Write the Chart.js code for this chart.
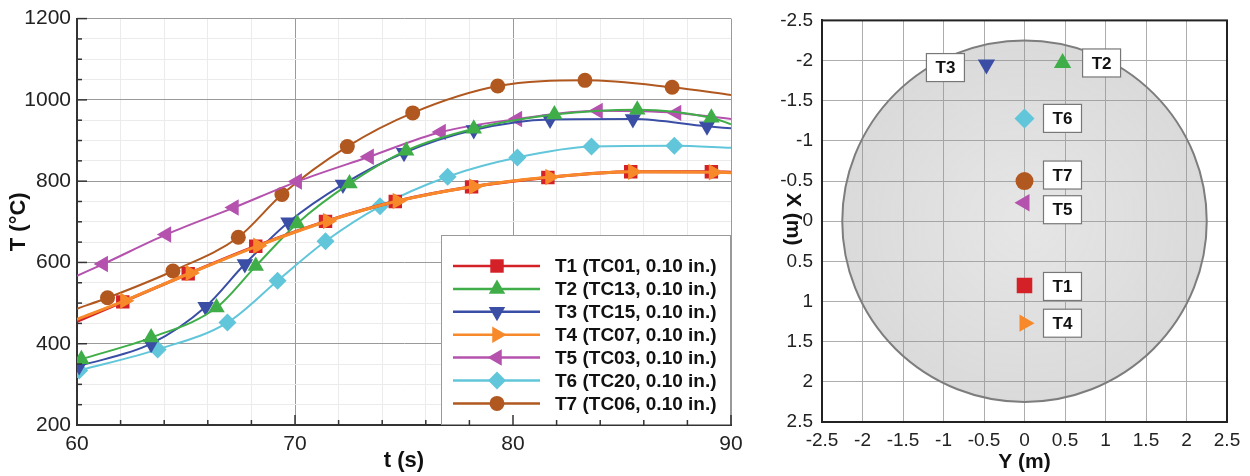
<!DOCTYPE html>
<html>
<head>
<meta charset="utf-8">
<script src="https://cdn.jsdelivr.net/npm/chart.js@4.4.1/dist/chart.umd.min.js"></script>
<style>
body { margin: 0; background: #fff; width: 1250px; height: 476px; overflow: hidden; position: relative; }
#wl { position: absolute; left: 0; top: 0; width: 750px; height: 476px; }
#wr { position: absolute; left: 760px; top: 0; width: 490px; height: 476px; }
</style>
</head>
<body>
<div id="wl"><canvas id="left"></canvas></div>
<div id="wr"><canvas id="right"></canvas></div>
<script>
// thermocouple histories
var seriesNames = ['T1 (TC01, 0.10 in.)', 'T2 (TC13, 0.10 in.)', 'T3 (TC15, 0.10 in.)', 'T4 (TC07, 0.10 in.)',
                   'T5 (TC03, 0.10 in.)', 'T6 (TC20, 0.10 in.)', 'T7 (TC06, 0.10 in.)'];
var t1Time = [60, 62.1, 65.1, 68.2, 71.4, 74.6, 78.1, 81.6, 85.4, 89.1, 90];
var t1Temp = [455, 503, 572, 640, 701, 750, 786, 809, 823, 823, 822];
var t2Time = [60.2, 63.4, 66.4, 68.2, 70.1, 72.5, 75.1, 78.2, 81.9, 85.7, 89.1, 90];
var t2Temp = [362, 415, 489, 591, 696, 794, 875, 929, 964, 976, 956, 940];
var t3Time = [60.1, 63.4, 65.9, 67.7, 69.7, 72.2, 75.0, 78.2, 81.7, 85.5, 88.9, 90];
var t3Temp = [345, 400, 491, 596, 699, 792, 870, 926, 952, 953, 935, 930];
var t4Time = [60, 62.2, 65.2, 68.3, 71.5, 74.7, 78.2, 81.7, 85.5, 89.2, 90];
var t4Temp = [460, 506, 574, 641, 702, 751, 787, 810, 823, 822, 821];
var t5Time = [60, 61.2, 64.1, 67.2, 70.1, 73.4, 76.7, 80.2, 83.9, 87.5, 90];
var t5Temp = [567, 596, 669, 735, 799, 860, 921, 953, 973, 968, 953];
var t6Time = [60.1, 63.7, 66.9, 69.2, 71.4, 73.9, 77.0, 80.2, 83.6, 87.4, 90];
var t6Temp = [334, 386, 452, 555, 652, 738, 811, 858, 885, 887, 882];
var t7Time = [60, 61.4, 64.4, 67.4, 69.4, 72.4, 75.4, 79.3, 83.3, 87.3, 90];
var t7Temp = [486, 513, 579, 662, 767, 885, 968, 1034, 1048, 1031, 1012];

// probe locations (Y, X in metres) and the disk radius
var probeNames = ['T1', 'T2', 'T3', 'T4', 'T5', 'T6', 'T7'];
var probeY = [0, 0.47, -0.47, 0, 0, 0, 0];
var probeX = [0.8, -1.97, -1.95, 1.27, -0.23, -1.28, -0.5];
var diskRadius = 2.25;

var colors = ['#d42027', '#3fae49', '#3b4ea6', '#f7892a', '#b452ae', '#62c6da', '#b0581f'];
var markers = [
    { style: 'rect', rot: 0, r: 9.5 },
    { style: 'triangle', rot: 0, r: 9.5 },
    { style: 'triangle', rot: 180, r: 9.5 },
    { style: 'triangle', rot: 90, r: 9.5 },
    { style: 'triangle', rot: -90, r: 9.5 },
    { style: 'rectRot', rot: 0, r: 9 },
    { style: 'circle', rot: 0, r: 7.5 }
];
var times = [t1Time, t2Time, t3Time, t4Time, t5Time, t6Time, t7Time];
var temps = [t1Temp, t2Temp, t3Temp, t4Temp, t5Temp, t6Temp, t7Temp];
// first point is a marker only for series whose first symbol sits on the axis
var firstMarked = [false, true, true, false, false, true, false];

Chart.defaults.font.family = '"Liberation Sans", Arial, sans-serif';
Chart.defaults.color = '#222';

function pts(tx, ty) {
    var out = [];
    for (var i = 0; i < tx.length; i++) out.push({ x: tx[i], y: ty[i] });
    return out;
}

var lineSets = seriesNames.map(function (name, k) {
    return {
        label: name,
        data: pts(times[k], temps[k]),
        borderColor: colors[k],
        backgroundColor: colors[k],
        borderWidth: (k === 0 || k === 3) ? 3 : 2,
        pointStyle: markers[k].style,
        rotation: markers[k].rot,
        pointRadius: function (c) {
            var n = c.dataset.data.length;
            if (c.dataIndex === n - 1) return 0;
            if (c.dataIndex === 0 && !firstMarked[k]) return 0;
            return markers[k].r;
        },
        pointBorderWidth: 0,
        cubicInterpolationMode: 'monotone',
        order: k === 3 ? -1 : k
    };
});

function drawMarker(ctx, m, color, x, y) {
    ctx.save();
    ctx.fillStyle = color;
    ctx.strokeStyle = color;
    Chart.helpers.drawPoint(ctx, { pointStyle: m.style, rotation: m.rot, radius: m.r, borderWidth: 0 }, x, y);
    ctx.restore();
}

var legendPlugin = {
    id: 'boxLegend',
    afterDatasetsDraw: function (chart) {
        var ctx = chart.ctx, a = chart.chartArea;
        var bx = 441, by = 235;
        ctx.save();
        ctx.fillStyle = '#fff';
        ctx.fillRect(bx, by, a.right - bx, a.bottom - by);
        ctx.strokeStyle = '#999';
        ctx.lineWidth = 1;
        ctx.strokeRect(bx + 0.5, by + 0.5, a.right - bx - 1, a.bottom - by - 1);
        ctx.font = 'bold 19px "Liberation Sans", Arial, sans-serif';
        ctx.textBaseline = 'middle';
        ctx.fillStyle = '#111';
        chart.data.datasets.forEach(function (ds, k) {
            var y = 266 + k * 22.9;
            ctx.strokeStyle = ds.borderColor;
            ctx.lineWidth = 2.5;
            ctx.beginPath();
            ctx.moveTo(453, y);
            ctx.lineTo(540, y);
            ctx.stroke();
            drawMarker(ctx, markers[k], ds.borderColor, 497, y);
            ctx.fillStyle = '#111';
            ctx.fillText(ds.label, 555, y + 1);
        });
        ctx.restore();
    }
};

// short inward tick marks along the two drawn axes
var innerTicks = {
    id: 'innerTicks',
    afterDraw: function (chart) {
        var ctx = chart.ctx, a = chart.chartArea;
        var xs = chart.scales.x, ys = chart.scales.y;
        ctx.save();
        ctx.strokeStyle = '#333';
        ctx.lineWidth = 1.5;
        xs.ticks.forEach(function (t) {
            var px = xs.getPixelForValue(t.value);
            var len = (t.value % 10 === 0) ? 10 : 5;
            ctx.beginPath();
            ctx.moveTo(px, a.bottom);
            ctx.lineTo(px, a.bottom - len);
            ctx.stroke();
        });
        ys.ticks.forEach(function (t) {
            var py = ys.getPixelForValue(t.value);
            var len = (t.value % 200 === 0) ? 10 : 5;
            ctx.beginPath();
            ctx.moveTo(a.left, py);
            ctx.lineTo(a.left + len, py);
            ctx.stroke();
        });
        ctx.restore();
    }
};

new Chart(document.getElementById('left').getContext('2d'), {
    type: 'line',
    data: { datasets: lineSets },
    options: {
        responsive: true,
        maintainAspectRatio: false,
        animation: false,
        layout: { padding: { top: 16, right: 19, left: 0, bottom: 0 } },
        plugins: { legend: { display: false }, tooltip: { enabled: false } },
        scales: {
            x: {
                type: 'linear', min: 60, max: 90,
                afterFit: function (s) { s.height = 51; },
                ticks: {
                    stepSize: 2, padding: 7, maxRotation: 0, autoSkip: false,
                    font: { size: 21 },
                    callback: function (v) { return v % 10 === 0 ? String(v) : ''; }
                },
                grid: {
                    drawTicks: false,
                    color: function (c) { return c.tick && c.tick.value % 10 === 0 ? '#9a9a9a' : '#ebebeb'; }
                },
                border: { color: '#333', width: 2 },
                title: { display: true, text: 't (s)', font: { size: 22, weight: 'bold' }, color: '#111', padding: { top: 0, bottom: 2 } }
            },
            y: {
                min: 200, max: 1200,
                afterFit: function (s) { s.width = 77; },
                ticks: {
                    stepSize: 50, padding: 6, autoSkip: false,
                    font: { size: 21 },
                    callback: function (v) { return v % 200 === 0 ? String(v) : ''; }
                },
                grid: {
                    drawTicks: false,
                    color: function (c) { return c.tick && c.tick.value % 200 === 0 ? '#9a9a9a' : '#ebebeb'; }
                },
                border: { color: '#333', width: 2 },
                title: { display: true, text: 'T (°C)', font: { size: 22, weight: 'bold' }, color: '#111', padding: { top: 6, bottom: 0 } }
            }
        }
    },
    plugins: [innerTicks, legendPlugin]
});

// ---- right: probe map ----
var labelOffsets = [[38, 1], [39, 0], [-41, 3], [38, 0], [38, 7], [38, 0], [38, -6]];

var diskPlugin = {
    id: 'disk',
    beforeDatasetsDraw: function (chart) {
        var ctx = chart.ctx, xs = chart.scales.x, ys = chart.scales.y;
        var cx = xs.getPixelForValue(0), cy = ys.getPixelForValue(0);
        var rx = Math.abs(xs.getPixelForValue(diskRadius) - cx);
        var ry = Math.abs(ys.getPixelForValue(diskRadius) - cy);
        ctx.save();
        var g = ctx.createRadialGradient(cx, cy, 0, cx, cy, Math.max(rx, ry));
        g.addColorStop(0, 'rgba(150,150,150,0.24)');
        g.addColorStop(1, 'rgba(140,140,140,0.32)');
        ctx.fillStyle = g;
        ctx.beginPath();
        ctx.ellipse(cx, cy, rx, ry, 0, 0, Math.PI * 2);
        ctx.fill();
        ctx.strokeStyle = '#7d7d7d';
        ctx.lineWidth = 2;
        ctx.stroke();
        ctx.restore();
    },
    afterDraw: function (chart) {
        var ctx = chart.ctx, a = chart.chartArea, xs = chart.scales.x, ys = chart.scales.y;
        ctx.save();
        // frame
        ctx.strokeStyle = '#222';
        ctx.lineWidth = 2;
        ctx.strokeRect(a.left, a.top, a.right - a.left, a.bottom - a.top);
        // probe labels
        ctx.font = 'bold 17px "Liberation Sans", Arial, sans-serif';
        ctx.textAlign = 'center';
        ctx.textBaseline = 'middle';
        probeNames.forEach(function (n, k) {
            var px = xs.getPixelForValue(probeY[k]) + labelOffsets[k][0];
            var py = ys.getPixelForValue(probeX[k]) + labelOffsets[k][1];
            ctx.fillStyle = '#fff';
            ctx.fillRect(px - 19, py - 14, 38, 28);
            ctx.strokeStyle = '#777';
            ctx.lineWidth = 1.2;
            ctx.strokeRect(px - 19, py - 14, 38, 28);
            ctx.fillStyle = '#111';
            ctx.fillText(n, px, py + 1);
        });
        // rotated y title
        ctx.translate(33, (a.top + a.bottom) / 2 - 2);
        ctx.rotate(Math.PI / 2);
        ctx.font = 'bold 21px "Liberation Sans", Arial, sans-serif';
        ctx.fillStyle = '#111';
        ctx.fillText('X (m)', 0, 0);
        ctx.restore();
    }
};

var probeSets = probeNames.map(function (n, k) {
    return {
        label: n,
        data: [{ x: probeY[k], y: probeX[k] }],
        backgroundColor: colors[k],
        borderColor: colors[k],
        pointStyle: markers[k].style,
        rotation: markers[k].rot,
        pointRadius: markers[k].style === 'circle' ? 9 : (markers[k].style === 'rect' ? 11 : 10),
        pointBorderWidth: 0
    };
});

function fmt(v) { return String(Math.round(v * 10) / 10); }

new Chart(document.getElementById('right').getContext('2d'), {
    type: 'scatter',
    data: { datasets: probeSets },
    options: {
        responsive: true,
        maintainAspectRatio: false,
        animation: false,
        layout: { padding: { top: 16, right: 23, left: 0, bottom: 0 } },
        plugins: { legend: { display: false }, tooltip: { enabled: false } },
        scales: {
            x: {
                min: -2.5, max: 2.5,
                afterFit: function (s) { s.height = 54; },
                ticks: { stepSize: 0.5, padding: 7, maxRotation: 0, autoSkip: false, font: { size: 19 }, callback: fmt },
                grid: { drawTicks: false, color: '#adadad' },
                border: { color: '#222', width: 2 },
                title: { display: true, text: 'Y (m)', font: { size: 21, weight: 'bold' }, color: '#111', padding: { top: 0, bottom: 1 } }
            },
            y: {
                min: -2.5, max: 2.5, reverse: true,
                afterFit: function (s) { s.width = 62; },
                ticks: { stepSize: 0.5, padding: 9, autoSkip: false, font: { size: 19 }, callback: fmt },
                grid: { drawTicks: false, color: '#adadad' },
                border: { color: '#222', width: 2 }
            }
        }
    },
    plugins: [diskPlugin]
});
</script>
</body>
</html>
